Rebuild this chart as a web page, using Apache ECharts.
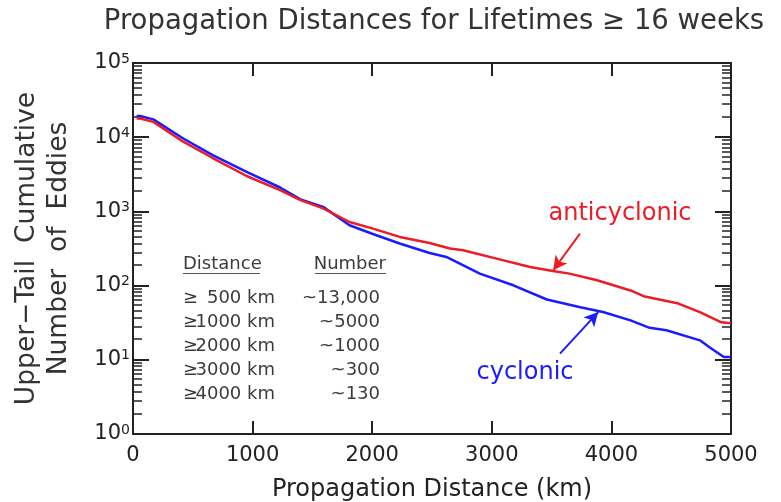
<!DOCTYPE html>
<html>
<head>
<meta charset="utf-8">
<script src="https://cdn.jsdelivr.net/npm/echarts@6/dist/echarts.min.js"></script>
<style>
html,body{margin:0;padding:0;background:#fff;}
#chart{width:781px;height:502px;}
</style>
</head>
<body>
<div id="chart"></div>
<script>
// ---- Data ----
const antiDist  = [30, 60, 170, 420, 670, 950, 1230, 1400, 1590, 1810, 2000, 2230, 2480, 2650, 2760, 3040, 3320, 3510, 3650, 3880, 4160, 4270, 4550, 4740, 4920, 5000];
const antiCount = [17900, 17900, 16100, 8700, 5200, 3000, 1930, 1420, 1100, 720, 590, 453, 376, 316, 300, 231, 178, 157, 145, 118, 86, 72, 58, 44, 32, 31];
const cycDist   = [30, 60, 170, 420, 670, 950, 1230, 1400, 1590, 1810, 2000, 2230, 2480, 2620, 2900, 3180, 3460, 3740, 3930, 4160, 4320, 4460, 4740, 4820, 4940, 5000];
const cycCount  = [19300, 19300, 17400, 9600, 5700, 3400, 2100, 1450, 1150, 650, 500, 369, 275, 243, 145, 101, 65, 51, 44, 34, 27, 25, 18.3, 14.8, 10.9, 10.9];
const xTicks = [0, 1000, 2000, 3000, 4000, 5000];
const tableHeaders = ['Distance', 'Number'];
const tableDistance = ['500 km', '1000 km', '2000 km', '3000 km', '4000 km'];
const tableNumber = ['~13,000', '~5000', '~1000', '~300', '~130'];
// arrow annotations [tail, head] in data units
const antiArrow = [[3737, 503], [3514, 161]];
const cycArrow  = [[3570, 12.1], [3890, 44]];

const RED = '#ec1c24';
const BLUE = '#1b1bff';
const AX = '#222';
const FONT = 'DejaVu Sans';

const chart = echarts.init(document.getElementById('chart'), null, {renderer: 'canvas'});

function pairs(xs, ys) { return xs.map((x, i) => [x, ys[i]]); }

const yLabel = {
  show: true,
  margin: 3,
  formatter: v => '{a|10}{b|' + Math.round(Math.log10(v)) + '}',
  rich: {
    a: {fontFamily: FONT, fontSize: 21, color: AX, lineHeight: 22},
    b: {fontFamily: FONT, fontSize: 14, color: AX, verticalAlign: 'top', lineHeight: 14}
  }
};

const TF = '18px "' + FONT + '"';
const TC = '#3c3c3c';
const tableGraphics = [];
const rowY = [298, 322, 346, 370, 394];
tableGraphics.push({type: 'text', x: 183, y: 264, style: {text: tableHeaders[0], font: TF, fill: TC, textVerticalAlign: 'middle'}});
tableGraphics.push({type: 'text', x: 386, y: 264, style: {text: tableHeaders[1], font: TF, fill: TC, textAlign: 'right', textVerticalAlign: 'middle'}});
tableGraphics.push({type: 'line', shape: {x1: 183, y1: 273.5, x2: 260, y2: 273.5}, style: {stroke: '#555', lineWidth: 1}});
tableGraphics.push({type: 'line', shape: {x1: 315, y1: 273.5, x2: 386, y2: 273.5}, style: {stroke: '#555', lineWidth: 1}});
tableDistance.forEach((t, i) => {
  tableGraphics.push({type: 'text', x: 183, y: rowY[i], style: {text: '≥', font: TF, fill: TC, textVerticalAlign: 'middle'}});
  tableGraphics.push({type: 'text', x: 275, y: rowY[i], style: {text: t, font: TF, fill: TC, textAlign: 'right', textVerticalAlign: 'middle'}});
  tableGraphics.push({type: 'text', x: 380, y: rowY[i], style: {text: tableNumber[i], font: TF, fill: TC, textAlign: 'right', textVerticalAlign: 'middle'}});
});

function arrowLine(a, color) {
  return {
    silent: true,
    symbol: ['none', 'arrow'],
    symbolSize: [11, 14],
    label: {show: false},
    lineStyle: {color: color, width: 2, type: 'solid'},
    emphasis: {disabled: true},
    data: [[{coord: a[0]}, {coord: a[1]}]],
    animation: false
  };
}

const option = {
  animation: false,
  backgroundColor: '#fff',
  title: {
    text: 'Propagation Distances for Lifetimes ≥ 16 weeks',
    left: 429, top: 3, textAlign: 'center',
    textStyle: {fontFamily: FONT, fontSize: 27.5, fontWeight: 'normal', color: '#333'}
  },
  grid: {left: 133, right: 50, top: 63, bottom: 68, containLabel: false, outerBoundsMode: 'none'},
  xAxis: [{
    type: 'value', min: 0, max: 5000, interval: 1000, position: 'bottom',
    axisLine: {show: true, onZero: false, lineStyle: {color: AX, width: 2}},
    axisTick: {show: true, inside: true, length: 13, lineStyle: {color: AX, width: 2}},
    axisLabel: {fontFamily: FONT, fontSize: 21, color: AX, margin: 11,
      formatter: v => String(xTicks[xTicks.indexOf(v)])},
    splitLine: {show: false},
    name: 'Propagation Distance (km)', nameLocation: 'middle', nameGap: 44,
    nameTextStyle: {fontFamily: FONT, fontSize: 24, color: AX}
  }, {
    type: 'value', min: 0, max: 5000, interval: 1000, position: 'top',
    axisLine: {show: true, onZero: false, lineStyle: {color: AX, width: 2}},
    axisTick: {show: true, inside: true, length: 13, lineStyle: {color: AX, width: 2}},
    axisLabel: {show: false}, splitLine: {show: false}
  }],
  yAxis: [{
    type: 'log', logBase: 10, min: 1, max: 100000, position: 'left',
    axisLine: {show: true, onZero: false, lineStyle: {color: AX, width: 2}},
    axisTick: {show: true, inside: true, length: 16, lineStyle: {color: AX, width: 2}},
    minorTick: {show: true, splitNumber: 10, length: 9, lineStyle: {color: AX, width: 1.5}},
    axisLabel: yLabel,
    splitLine: {show: false}, minorSplitLine: {show: false},
    name: 'Upper−Tail  Cumulative\nNumber  of  Eddies', nameLocation: 'middle', nameGap: 58, nameRotate: 90,
    nameTextStyle: {fontFamily: FONT, fontSize: 26.5, color: '#333', lineHeight: 32}
  }, {
    type: 'log', logBase: 10, min: 1, max: 100000, position: 'right',
    axisLine: {show: true, onZero: false, lineStyle: {color: AX, width: 2}},
    axisTick: {show: true, inside: true, length: 16, lineStyle: {color: AX, width: 2}},
    minorTick: {show: true, splitNumber: 10, length: 9, lineStyle: {color: AX, width: 1.5}},
    axisLabel: {show: false}, splitLine: {show: false}
  }],
  series: [{
    name: 'cyclonic', type: 'line', xAxisIndex: 0, yAxisIndex: 0,
    data: pairs(cycDist, cycCount), showSymbol: false, symbol: 'none',
    lineStyle: {color: BLUE, width: 2.5}, itemStyle: {color: BLUE},
    markLine: arrowLine(cycArrow, BLUE), z: 3
  }, {
    name: 'anticyclonic', type: 'line', xAxisIndex: 0, yAxisIndex: 0,
    data: pairs(antiDist, antiCount), showSymbol: false, symbol: 'none',
    lineStyle: {color: RED, width: 2.5}, itemStyle: {color: RED},
    markLine: arrowLine(antiArrow, RED), z: 4
  }],
  graphic: [
    {type: 'text', x: 620, y: 214, style: {text: 'anticyclonic', font: '24px "' + FONT + '"', fill: RED, textAlign: 'center', textVerticalAlign: 'middle'}},
    {type: 'text', x: 525, y: 373, style: {text: 'cyclonic', font: '24px "' + FONT + '"', fill: BLUE, textAlign: 'center', textVerticalAlign: 'middle'}}
  ].concat(tableGraphics)
};
chart.setOption(option);
</script>
</body>
</html>
